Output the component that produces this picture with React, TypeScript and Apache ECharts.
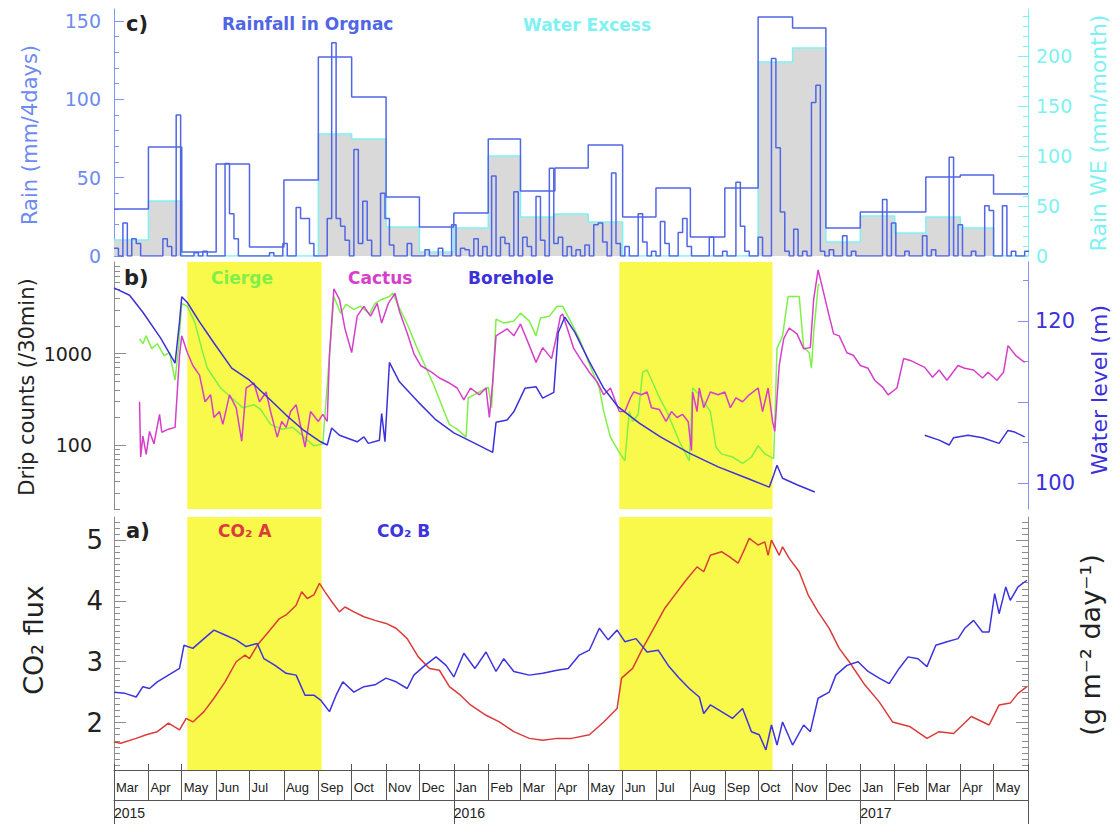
import React, { useEffect, useRef } from 'react';
import * as echarts from 'echarts';

// ---------- time helpers ----------
const T0 = Date.UTC(2015, 2, 1);
const T_END = Date.UTC(2017, 5, 1);
const DAY = 86400000;
const ts = (d: number) => T0 + d * DAY;
const monthStart = (i: number) => Date.UTC(2015, 2 + i, 1);

const MONTH_NAMES = ['Jan', 'Feb', 'Mar', 'Apr', 'May', 'Jun', 'Jul', 'Aug', 'Sep', 'Oct', 'Nov', 'Dec'];
const YEAR_STARTS = [T0, Date.UTC(2016, 0, 1), Date.UTC(2017, 0, 1)];

// ---------- DATA ----------
// monthly values Mar 2015 .. May 2017 (mm/month)
const monthlyRain = [47, 109, 4, 92, 9, 76, 199, 159, 59, 29, 43, 117, 65, 88, 111, 39, 68, 19, 68, 239, 228, 28, 44, 44, 79, 81, 62];
const waterExcess = [16, 55, 0, 0, 0, 0, 122, 117, 29, 4, 28, 100, 39, 42, 34, 0, 0, 0, 0, 194, 208, 14, 40, 23, 39, 28, 0];

// 4-day rain: [day since 2015-03-01 (bin start), mm/4days]; bins not listed had no rain
const rain4day: [number, number][] = [
  [0, 5], [8, 21], [16, 11], [20, 8], [44, 11], [48, 6], [56, 90], [72, 2], [80, 3],
  [100, 59], [104, 27], [108, 11], [140, 2],
  [152, 8], [164, 31], [168, 24], [172, 24], [176, 8],
  [192, 24], [196, 136], [200, 24], [204, 19], [208, 10], [216, 68], [220, 8], [224, 35], [228, 10],
  [240, 40], [244, 24], [248, 7], [264, 8], [280, 4], [292, 5],
  [304, 20], [312, 5], [316, 4], [324, 11], [332, 6], [340, 51], [348, 12], [352, 8],
  [360, 41], [368, 12], [372, 6], [380, 38], [384, 10],
  [392, 56], [396, 8], [400, 12], [408, 6], [416, 4], [424, 7],
  [432, 20], [436, 21], [440, 9], [448, 53], [452, 8], [460, 6],
  [472, 27], [476, 9], [484, 3], [492, 22], [496, 8], [508, 15], [512, 24], [516, 6],
  [536, 12], [548, 3], [560, 47], [564, 19], [568, 3],
  [580, 12], [592, 126], [596, 69], [600, 28], [604, 3],
  [612, 17], [620, 3], [628, 98], [632, 109], [636, 3], [644, 4], [656, 13], [664, 3],
  [692, 36], [700, 21], [712, 3], [728, 13], [736, 4], [752, 63], [760, 20], [772, 3],
  [784, 32], [788, 29], [800, 32], [808, 3], [820, 3],
];

// drip counts (/30min): [day, count]
const cierge: [number, number][] = [
  [23, 1450], [26, 1280], [29, 1560], [34, 1130], [39, 1280], [45, 950], [50, 1020], [55, 510], [58, 1130],
  [61, 3530], [66, 3280], [73, 2150], [79, 1130], [84, 690], [90, 540], [96, 420], [106, 327], [116, 256],
  [126, 276], [132, 245], [141, 168], [151, 149], [161, 156], [171, 122], [180, 98], [188, 103], [194, 950],
  [198, 4200], [204, 2760], [209, 3450], [216, 3040], [222, 3280], [230, 2700], [235, 3530], [241, 3900],
  [248, 4200], [251, 4550], [257, 3130], [264, 2100], [272, 1220], [280, 740], [288, 450], [296, 256],
  [302, 168], [309, 149], [317, 122], [319, 327], [329, 380], [337, 430], [340, 256], [344, 2380],
  [351, 2150], [360, 2260], [366, 2760], [374, 2260], [380, 1560], [384, 2440], [392, 2560], [399, 3280],
  [404, 3280], [412, 2150], [419, 1450], [425, 950], [431, 625], [437, 420], [441, 232], [447, 122],
  [454, 87], [460, 67], [464, 232], [467, 181], [472, 216], [476, 625], [480, 660], [490, 354], [499, 216],
  [509, 110], [518, 67], [521, 420], [527, 354], [537, 232], [542, 95], [547, 80], [557, 74], [566, 63],
  [574, 74], [580, 98], [586, 80], [594, 71], [597, 1130], [602, 1560], [607, 4200], [617, 4200],
  [621, 1160], [626, 1020], [628, 690], [630, 1680], [634, 5400], [635, 5800],
];

const cactus: [number, number][] = [
  [23, 297], [24, 74], [26, 125], [29, 79], [32, 141], [36, 103], [41, 216], [43, 138], [49, 149], [55, 156],
  [59, 950], [61, 1560], [66, 1025], [71, 740], [77, 580], [82, 297], [87, 354], [90, 200], [95, 232],
  [98, 168], [104, 354], [110, 256], [115, 110], [119, 420], [126, 476], [131, 297], [137, 380], [141, 232],
  [147, 122], [151, 181], [155, 156], [159, 232], [164, 276], [169, 141], [172, 95], [177, 232], [184, 181],
  [188, 216], [192, 181], [194, 950], [198, 5100], [203, 3900], [208, 1860], [214, 1025], [219, 2560],
  [225, 3280], [231, 2560], [237, 3530], [241, 2150], [247, 3530], [253, 4550], [257, 2900], [264, 1680],
  [270, 1000], [276, 740], [286, 625], [293, 540], [302, 476], [309, 420], [315, 312], [321, 420],
  [329, 354], [335, 420], [338, 200], [341, 490], [344, 1560], [354, 1860], [360, 1560], [366, 2100],
  [374, 1220], [380, 800], [386, 1160], [394, 880], [398, 1450], [402, 2560], [404, 2700], [414, 1130],
  [422, 800], [428, 625], [435, 490], [441, 354], [447, 420], [455, 232], [460, 232], [465, 327],
  [468, 380], [475, 354], [480, 380], [484, 256], [491, 245], [497, 181], [502, 232], [507, 200],
  [512, 216], [517, 181], [520, 87], [521, 380], [525, 232], [527, 420], [531, 256], [537, 380],
  [544, 354], [550, 380], [555, 256], [560, 327], [566, 297], [572, 354], [580, 420], [584, 232],
  [589, 420], [593, 181], [595, 141], [599, 740], [603, 1450], [608, 1900], [615, 1640], [621, 1130],
  [627, 1160], [630, 3900], [634, 8200], [637, 5800], [644, 2560], [648, 1640], [653, 1560], [660, 1020],
  [666, 950], [672, 740], [679, 690], [685, 510], [692, 430], [697, 354], [705, 420], [711, 880],
  [717, 840], [730, 705], [737, 550], [743, 660], [750, 510], [760, 740], [766, 690], [774, 660],
  [782, 540], [787, 625], [795, 510], [801, 625], [805, 1220], [812, 950], [820, 800],
];

// borehole water level (m): [day, level]
const boreholeA: [number, number][] = [
  [0, 124.1], [14, 123.2], [26, 121.1], [42, 117.9], [55, 114.8], [59, 119.9], [61, 123.0], [66, 122.3],
  [77, 119.9], [90, 117.3], [106, 114.2], [122, 112.7], [139, 110.5], [155, 108.4], [171, 106.5],
  [186, 105.1], [192, 104.7], [196, 106.8], [203, 105.9], [219, 105.1], [225, 105.7], [229, 104.9],
  [239, 105.3], [241, 108.6], [244, 105.1], [248, 114.9], [257, 112.5], [274, 110.0], [290, 107.8],
  [306, 106.2], [325, 104.9], [341, 103.8], [344, 107.5], [354, 107.8], [360, 108.8], [370, 111.7],
  [380, 111.9], [386, 110.5], [396, 111.2], [400, 118.6], [406, 120.5], [415, 118.6], [428, 115.0],
  [441, 111.7], [454, 109.4], [473, 107.4], [492, 105.7], [518, 103.7], [544, 102.0], [570, 100.6],
  [590, 99.5], [594, 101.0], [597, 102.2], [602, 100.6], [615, 99.8], [631, 98.9],
];
const boreholeB: [number, number][] = [
  [730, 105.9], [743, 105.3], [752, 104.7], [756, 105.6], [769, 105.9], [782, 105.6], [797, 104.9],
  [805, 106.5], [811, 106.3], [820, 105.7],
];

// CO2 flux (g m-2 day-1): [day, flux]
const co2A: [number, number][] = [
  [0, 1.68], [6, 1.66], [20, 1.74], [29, 1.80], [39, 1.85], [49, 1.99], [59, 1.88], [65, 2.07], [71, 2.01],
  [81, 2.18], [90, 2.40], [100, 2.67], [110, 3.00], [118, 3.11], [122, 3.05], [129, 3.27], [139, 3.49],
  [149, 3.71], [155, 3.77], [164, 3.93], [169, 4.15], [174, 4.04], [180, 4.10], [185, 4.29], [190, 4.15],
  [196, 3.99], [203, 3.82], [208, 3.90], [216, 3.82], [225, 3.74], [235, 3.68], [245, 3.63], [254, 3.55],
  [264, 3.38], [274, 3.08], [284, 2.89], [293, 2.86], [302, 2.59], [312, 2.45], [321, 2.29], [335, 2.12],
  [347, 2.01], [360, 1.85], [374, 1.74], [386, 1.71], [399, 1.74], [412, 1.74], [428, 1.80], [441, 2.01],
  [453, 2.23], [457, 2.73], [467, 2.89], [476, 3.22], [486, 3.55], [496, 3.88], [505, 4.10], [515, 4.34],
  [525, 4.56], [531, 4.48], [537, 4.75], [547, 4.81], [554, 4.73], [562, 4.62], [568, 4.86], [572, 5.03],
  [580, 4.92], [586, 4.97], [589, 4.75], [592, 5.00], [599, 4.75], [602, 4.89], [608, 4.70], [617, 4.48],
  [625, 4.10], [634, 3.82], [644, 3.55], [653, 3.22], [662, 3.00], [676, 2.62], [689, 2.34], [701, 2.01],
  [717, 1.93], [732, 1.74], [743, 1.85], [756, 1.82], [772, 2.10], [788, 1.96], [797, 2.29], [807, 2.32],
  [814, 2.48], [822, 2.59],
];
const co2B: [number, number][] = [
  [0, 2.50], [10, 2.48], [20, 2.42], [26, 2.59], [32, 2.56], [39, 2.67], [49, 2.78], [59, 2.89], [63, 3.27],
  [71, 3.22], [81, 3.38], [90, 3.52], [100, 3.44], [110, 3.36], [119, 3.25], [129, 3.30], [135, 3.05],
  [145, 2.94], [155, 2.81], [164, 2.78], [172, 2.45], [180, 2.45], [186, 2.37], [194, 2.18], [200, 2.45],
  [206, 2.67], [216, 2.50], [225, 2.59], [235, 2.62], [245, 2.73], [254, 2.67], [264, 2.56], [270, 2.78],
  [280, 2.94], [290, 3.08], [299, 2.94], [306, 2.75], [315, 3.14], [325, 2.89], [335, 3.16], [344, 2.84],
  [351, 3.05], [360, 2.84], [374, 2.78], [386, 2.81], [399, 2.86], [409, 2.89], [419, 3.11], [428, 3.19],
  [437, 3.55], [445, 3.36], [453, 3.52], [460, 3.33], [470, 3.38], [480, 3.16], [490, 3.19], [499, 2.94],
  [509, 2.73], [518, 2.56], [527, 2.42], [531, 2.15], [537, 2.29], [547, 2.18], [557, 2.07], [566, 2.23],
  [574, 1.85], [581, 1.80], [587, 1.55], [592, 1.96], [597, 1.63], [602, 2.01], [611, 1.63], [621, 1.96],
  [627, 1.85], [634, 2.40], [644, 2.50], [650, 2.78], [660, 2.94], [670, 3.00], [679, 2.84], [689, 2.73],
  [698, 2.64], [707, 2.89], [715, 3.08], [724, 3.05], [732, 2.92], [740, 3.27], [750, 3.33], [760, 3.38],
  [766, 3.55], [774, 3.68], [782, 3.49], [788, 3.49], [793, 4.12], [797, 3.79], [803, 4.23], [807, 4.01],
  [814, 4.23], [822, 4.34],
];

// shaded (yellow) periods: [start day, end day]
const dryPeriods: [number, number][] = [[66, 187], [455, 593]];

// ---------- styling ----------
const SANS = 'DejaVu Sans';
const RAIN_BLUE = '#5166e6';
const RAIN_AXIS = '#7f97f2';
const RAIN_LABEL = '#6e8bf0';
const CYAN = '#7ef2f2';
const GRAY_FILL = '#d9d9d9';
const GREEN = '#80f048';
const MAGENTA = '#d53fca';
const BORE = '#3c31da';
const BORE_AXIS = '#8d8df0';
const RED = '#da3c3a';
const CO2B_COLOR = '#3d34de';
const YELLOW = '#f9f94c';
const AXIS_GRAY = '#8c8c8c';
const INK = '#222';

const range = (a: number, b: number, s: number) => {
  const out: number[] = [];
  for (let v = a; v <= b + 1e-9; v += s) out.push(Math.round(v * 100) / 100);
  return out;
};

function mkY(o: any) {
  const ax: any = {
    type: o.type || 'value',
    gridIndex: o.grid,
    position: o.pos,
    min: o.min,
    max: o.max,
    splitLine: { show: false },
    axisLine: { show: !!o.line, onZero: false, lineStyle: { color: o.color, width: 1 } },
    axisTick: { show: true, inside: true, length: o.len, customValues: o.ticks, lineStyle: { color: o.color, width: 1 } },
    axisLabel: o.labels
      ? {
          show: true,
          customValues: o.labels,
          color: o.labelColor,
          fontSize: o.fontSize,
          fontFamily: SANS,
          margin: o.margin,
          padding: [15, 0, 0, 0],
          formatter: (v: number) => String(Math.round(v * 100) / 100),
        }
      : { show: false },
  };
  if (o.type === 'log') ax.logBase = 10;
  return ax;
}

function timeAxis(grid: number, extra: any) {
  return { type: 'value', gridIndex: grid, min: T0, max: T_END, splitLine: { show: false }, ...extra };
}

function buildOption() {
  const monthTicks = range(0, 27, 1).map((i) => monthStart(i));
  const monthLabelTicks = monthTicks.slice(0, 27);

  const rainMap = new Map(rain4day.map(([d, v]) => [d, v]));
  const rainBins: [number, number][] = [];
  for (let d = 0; d <= 820; d += 4) rainBins.push([ts(d), rainMap.get(d) ?? 0]);
  rainBins.push([ts(824), rainBins[rainBins.length - 1][1]]);

  const monthlySeries = monthlyRain.map((v, i) => [monthStart(i), v]);
  monthlySeries.push([T_END, monthlyRain[monthlyRain.length - 1]]);
  const weSeries = waterExcess.map((v, i) => [monthStart(i), v]);
  weSeries.push([T_END, waterExcess[waterExcess.length - 1]]);

  const toTs = (arr: [number, number][]) => arr.map(([d, v]) => [ts(d), v]);
  const yellowData = dryPeriods.map(([a, b]) => [{ xAxis: ts(a) }, { xAxis: ts(b) }]);

  const lineBase = { type: 'line', showSymbol: false, symbol: 'none', animation: false, z: 3 };

  const cMinorL = range(10, 150, 10).filter((v) => v % 50 !== 0);
  const cMinorR = range(10, 240, 10).filter((v) => v % 50 !== 0);
  const bMinorL = [...range(20, 90, 10), ...range(200, 900, 100), ...range(2000, 9000, 1000)];
  const aMinor = range(1.3, 5.3, 0.1).filter((v) => Math.abs(v - Math.round(v)) > 0.01);

  const text = (x: number, y: number, t: string, fill: string, size: number, weight = 'normal', rot = 0, align = 'left') => ({
    type: 'text',
    x,
    y,
    z: 100,
    rotation: rot,
    silent: true,
    style: { text: t, fill, fontSize: size, fontFamily: SANS, fontWeight: weight, align, verticalAlign: 'middle' },
  });
  const R = Math.PI / 2;

  return {
    animation: false,
    backgroundColor: '#ffffff',
    grid: [
      { left: 114, right: 86, top: 9, height: 247 },
      { left: 114, right: 86, top: 262, height: 247 },
      { left: 114, right: 86, top: 517, height: 253 },
    ],
    xAxis: [
      timeAxis(0, { show: false }),
      timeAxis(1, { show: false }),
      timeAxis(2, {
        position: 'bottom',
        axisLine: { show: true, onZero: false, lineStyle: { color: '#555', width: 1 } },
        axisTick: { show: true, inside: true, length: 6, customValues: monthTicks, lineStyle: { color: '#555' } },
        axisLabel: { show: false },
      }),
      timeAxis(2, {
        position: 'bottom',
        axisLine: { show: false, onZero: false },
        axisTick: { show: true, inside: false, length: 30, customValues: monthTicks, lineStyle: { color: '#555' } },
        axisLabel: {
          show: true, customValues: monthLabelTicks,
          formatter: (v: number) => MONTH_NAMES[new Date(v).getUTCMonth()],
          align: 'left', padding: [0, 0, 0, 2], margin: 11, fontSize: 13, fontFamily: 'Liberation Sans', color: INK,
        },
      }),
      timeAxis(2, {
        position: 'bottom', offset: 30,
        axisLine: { show: true, onZero: false, lineStyle: { color: '#555', width: 1 } },
        axisTick: { show: true, inside: false, length: 24, customValues: [...YEAR_STARTS, T_END], lineStyle: { color: '#555' } },
        axisLabel: {
          show: true, customValues: YEAR_STARTS,
          formatter: (v: number) => String(new Date(v).getUTCFullYear()),
          align: 'left', margin: 6, fontSize: 14, fontFamily: 'Liberation Sans', color: INK,
        },
      }),
    ],
    yAxis: [
      mkY({ grid: 0, pos: 'left', min: 0, max: 157.6, color: RAIN_AXIS, line: true, ticks: [0, 50, 100, 150], len: 10, labels: [0, 50, 100, 150], labelColor: RAIN_LABEL, fontSize: 19, margin: 13 }),
      mkY({ grid: 0, pos: 'left', min: 0, max: 157.6, color: RAIN_AXIS, ticks: cMinorL, len: 5 }),
      mkY({ grid: 0, pos: 'right', min: 0, max: 247, color: CYAN, line: true, ticks: [0, 50, 100, 150, 200], len: 10, labels: [0, 50, 100, 150, 200], labelColor: CYAN, fontSize: 19, margin: 8 }),
      mkY({ grid: 0, pos: 'right', min: 0, max: 247, color: CYAN, ticks: cMinorR, len: 5 }),
      mkY({ type: 'log', grid: 1, pos: 'left', min: 20, max: 10000, color: AXIS_GRAY, line: true, ticks: [100, 1000], len: 12, labels: [100, 1000], labelColor: INK, fontSize: 19, margin: 22 }),
      mkY({ type: 'log', grid: 1, pos: 'left', min: 20, max: 10000, color: AXIS_GRAY, ticks: bMinorL, len: 6 }),
      mkY({ grid: 1, pos: 'right', min: 96.8, max: 127.3, color: BORE_AXIS, line: true, ticks: [100, 110, 120], len: 10, labels: [100, 120], labelColor: BORE, fontSize: 21, margin: 7 }),
      mkY({ grid: 1, pos: 'right', min: 96.8, max: 127.3, color: BORE_AXIS, ticks: [105, 115, 125], len: 5 }),
      mkY({ grid: 2, pos: 'left', min: 1.22, max: 5.38, color: AXIS_GRAY, line: true, ticks: [2, 3, 4, 5], len: 12, labels: [2, 3, 4, 5], labelColor: INK, fontSize: 26, margin: 11 }),
      mkY({ grid: 2, pos: 'left', min: 1.22, max: 5.38, color: AXIS_GRAY, ticks: aMinor, len: 6 }),
      mkY({ grid: 2, pos: 'right', min: 1.22, max: 5.38, color: AXIS_GRAY, line: true, ticks: [2, 3, 4, 5], len: 12 }),
      mkY({ grid: 2, pos: 'right', min: 1.22, max: 5.38, color: AXIS_GRAY, ticks: aMinor, len: 6 }),
    ],
    series: [
      // yellow periods
      { type: 'line', xAxisIndex: 1, yAxisIndex: 6, data: [], z: 1, silent: true,
        markArea: { silent: true, itemStyle: { color: YELLOW, opacity: 1 }, data: yellowData } },
      { type: 'line', xAxisIndex: 2, yAxisIndex: 8, data: [], z: 1, silent: true,
        markArea: { silent: true, itemStyle: { color: YELLOW, opacity: 1 }, data: yellowData } },
      // panel c
      { ...lineBase, name: 'Water Excess', xAxisIndex: 0, yAxisIndex: 2, step: 'end', data: weSeries,
        lineStyle: { color: CYAN, width: 1.5 }, areaStyle: { color: GRAY_FILL, opacity: 1 }, z: 2 },
      { ...lineBase, name: 'Monthly rain', xAxisIndex: 0, yAxisIndex: 2, step: 'end', data: monthlySeries,
        lineStyle: { color: RAIN_BLUE, width: 1.5 } },
      { ...lineBase, name: 'Rainfall in Orgnac', xAxisIndex: 0, yAxisIndex: 0, step: 'end', data: rainBins,
        lineStyle: { color: RAIN_BLUE, width: 1.5 } },
      // panel b
      { ...lineBase, name: 'Cierge', xAxisIndex: 1, yAxisIndex: 4, data: toTs(cierge), lineStyle: { color: GREEN, width: 1.5 } },
      { ...lineBase, name: 'Cactus', xAxisIndex: 1, yAxisIndex: 4, data: toTs(cactus), lineStyle: { color: MAGENTA, width: 1.5 } },
      { ...lineBase, name: 'Borehole', xAxisIndex: 1, yAxisIndex: 6, data: toTs(boreholeA), lineStyle: { color: BORE, width: 1.5 } },
      { ...lineBase, name: 'Borehole 2017', xAxisIndex: 1, yAxisIndex: 6, data: toTs(boreholeB), lineStyle: { color: BORE, width: 1.5 } },
      // panel a
      { ...lineBase, name: 'CO2 A', xAxisIndex: 2, yAxisIndex: 8, data: toTs(co2A), lineStyle: { color: RED, width: 1.5 } },
      { ...lineBase, name: 'CO2 B', xAxisIndex: 2, yAxisIndex: 8, data: toTs(co2B), lineStyle: { color: CO2B_COLOR, width: 1.5 } },
    ],
    graphic: [
      text(126, 24, 'c)', INK, 21, 'bold'),
      text(222, 24, 'Rainfall in Orgnac', RAIN_BLUE, 17, 'bold'),
      text(523, 25, 'Water Excess', CYAN, 17, 'bold'),
      text(124, 278, 'b)', INK, 21, 'bold'),
      text(211, 278, 'Cierge', GREEN, 17, 'bold'),
      text(348, 278, 'Cactus', MAGENTA, 17, 'bold'),
      text(468, 278, 'Borehole', BORE, 17, 'bold'),
      text(126, 531, 'a)', INK, 21, 'bold'),
      text(218, 531, 'CO₂ A', RED, 17, 'bold'),
      text(377, 531, 'CO₂ B', CO2B_COLOR, 17, 'bold'),
      text(30, 135, 'Rain (mm/4days)', RAIN_LABEL, 21, 'normal', R, 'center'),
      text(1098, 133, 'Rain WE (mm/month)', CYAN, 22, 'normal', R, 'center'),
      text(27, 387, 'Drip counts (/30min)', INK, 21, 'normal', R, 'center'),
      text(1099, 390, 'Water level (m)', BORE, 22, 'normal', R, 'center'),
      text(33, 640, 'CO₂ flux', INK, 27, 'normal', R, 'center'),
      text(1090, 645, '(g m⁻² day⁻¹)', INK, 27, 'normal', R, 'center'),
    ],
  };
}

export default function App() {
  const ref = useRef<HTMLDivElement>(null);
  useEffect(() => {
    if (!ref.current) return;
    const chart = echarts.init(ref.current, null, { renderer: 'svg' });
    chart.setOption(buildOption() as any);
    return () => chart.dispose();
  }, []);
  return (
    <div
      ref={ref}
      style={{ position: 'fixed', left: 0, top: 0, width: 1114, height: 824, background: '#fff' }}
    />
  );
}
